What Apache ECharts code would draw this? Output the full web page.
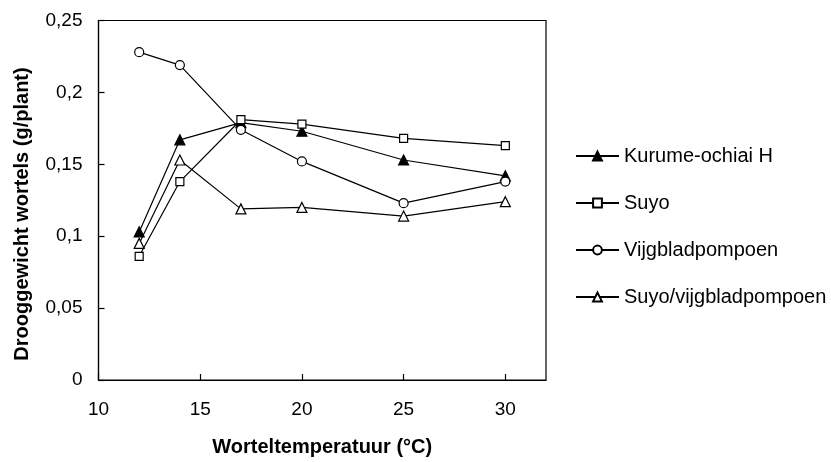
<!DOCTYPE html>
<html>
<head>
<meta charset="utf-8">
<script src="https://cdn.jsdelivr.net/npm/echarts@6/dist/echarts.min.js"></script>
<style>
html,body{margin:0;padding:0;background:#fff;}
#chart{width:831px;height:462px;}
</style>
</head>
<body>
<div id="chart"></div>
<script>
var temperatures = [12, 14, 17, 20, 25, 30];
var kurumeOchiai = [0.103, 0.167, 0.179, 0.173, 0.153, 0.142];
var suyo = [0.086, 0.138, 0.181, 0.178, 0.168, 0.163];
var vijgblad = [0.228, 0.219, 0.174, 0.152, 0.123, 0.138];
var suyoVijg = [0.095, 0.153, 0.119, 0.120, 0.114, 0.124];
var seriesNames = ['Kurume-ochiai H', 'Suyo', 'Vijgbladpompoen', 'Suyo/vijgbladpompoen'];
var xTitle = 'Worteltemperatuur (°C)';
var yTitle = 'Drooggewicht wortels (g/plant)';

function pairs(vals) {
  return temperatures.map(function (t, i) { return [t, vals[i]]; });
}

var font = 'Arial, "Liberation Sans", sans-serif';
var chart = echarts.init(document.getElementById('chart'), null, {renderer: 'canvas'});

function mkSeries(name, vals, symbol, fill) {
  return {
    name: name,
    type: 'line',
    data: pairs(vals),
    symbol: symbol,
    symbolSize: symbol === 'rect' ? 8 : (symbol === 'circle' ? 9 : 10),
    showAllSymbol: true,
    lineStyle: {color: '#000', width: 1.2},
    itemStyle: {color: fill, borderColor: '#000', borderWidth: 1.2},
    emphasis: {disabled: true},
    animation: false
  };
}

chart.setOption({
  backgroundColor: '#fff',
  animation: false,
  grid: {left: 98.5, right: 285, top: 20.5, bottom: 77.7, show: true, borderColor: '#000', borderWidth: 1.2, backgroundColor: 'transparent'},
  legend: {
    orient: 'vertical',
    left: 570,
    top: 141,
    itemWidth: 43,
    itemHeight: 11,
    itemGap: 27,
    textStyle: {fontFamily: font, fontSize: 20, color: '#000', lineHeight: 20},
    data: seriesNames
  },
  xAxis: {
    type: 'value',
    min: 10, max: 32, interval: 5,
    name: xTitle,
    nameLocation: 'middle',
    nameGap: 57,
    nameTextStyle: {fontFamily: font, fontSize: 20, fontWeight: 'bold', color: '#000'},
    axisLine: {show: true, lineStyle: {color: '#000', width: 1.2}},
    axisTick: {show: true, inside: true, length: 6, lineStyle: {color: '#000', width: 1.2}},
    axisLabel: {fontFamily: font, fontSize: 19, color: '#000', margin: 20, showMaxLabel: false},
    splitLine: {show: false}
  },
  yAxis: {
    type: 'value',
    min: 0, max: 0.25, interval: 0.05,
    axisLine: {show: true, lineStyle: {color: '#000', width: 1.2}},
    axisTick: {show: true, inside: true, length: 6, lineStyle: {color: '#000', width: 1.2}},
    axisLabel: {
      fontFamily: font, fontSize: 19, color: '#000', margin: 16,
      formatter: function (v) { return String(Math.round(v * 100) / 100).replace('.', ','); }
    },
    splitLine: {show: false}
  },
  graphic: [{
    type: 'text',
    x: 22.5, y: 214,
    rotation: Math.PI / 2,
    style: {
      text: yTitle,
      font: 'bold 20px ' + font,
      fill: '#000',
      textAlign: 'center',
      textVerticalAlign: 'middle'
    }
  }],
  series: [
    mkSeries(seriesNames[0], kurumeOchiai, 'triangle', '#000'),
    mkSeries(seriesNames[1], suyo, 'rect', '#fff'),
    mkSeries(seriesNames[2], vijgblad, 'circle', '#fff'),
    mkSeries(seriesNames[3], suyoVijg, 'triangle', '#fff')
  ]
});
</script>
</body>
</html>
